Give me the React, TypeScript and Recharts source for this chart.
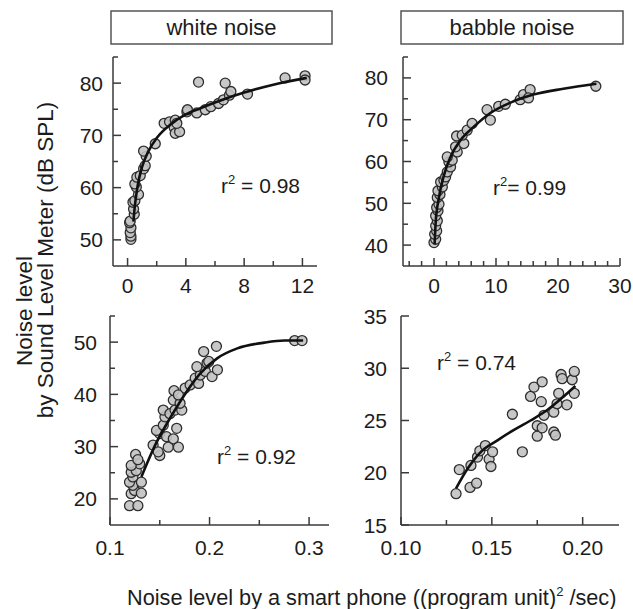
import React from "react";
import { ScatterChart, Scatter, XAxis, YAxis } from "recharts";

type Pt = [number, number];

// white noise, top row: phone level (x) vs SLM level (y)
const whitePoints: Pt[] = [
  [0.23, 50.1], [0.23, 50.7], [0.18, 51.4], [0.23, 52.3], [0.14, 53.3], [0.18, 53.6],
  [0.46, 54.9], [0.41, 55.9], [0.37, 57.2], [0.5, 57.5], [0.75, 58.7], [0.6, 60.1],
  [0.5, 60.7], [0.64, 62.0], [0.87, 62.3], [1.1, 63.6], [1.21, 64.2], [1.28, 66.0],
  [1.1, 67.0], [1.9, 68.4], [2.51, 72.3], [2.88, 72.6], [3.27, 72.9], [3.2, 71.5],
  [3.27, 70.4], [3.57, 70.7], [3.38, 72.3], [4.07, 74.5], [4.11, 74.9], [4.87, 80.2],
  [4.75, 74.3], [5.33, 74.9], [5.71, 75.5], [6.24, 76.1], [6.58, 76.8], [6.7, 80.0],
  [6.99, 77.7], [7.09, 78.4], [8.23, 77.9], [10.81, 81.0], [12.18, 81.4], [12.18, 80.6],
];
const whiteFit: Pt[] = [
  [0.4, 53.5], [0.5, 56.5], [0.7, 60.5], [1.0, 64.0], [1.4, 66.8], [2.0, 69.5], [3.0, 72.2],
  [4.0, 74.0], [5.0, 75.2], [6.0, 76.3], [8.0, 78.2], [10.0, 79.7], [12.3, 81.0],
];

// babble noise, top row
const babblePoints: Pt[] = [
  [0, 40.6], [0.27, 41.4], [0.11, 42.6], [0.43, 43.4], [0.27, 44.6], [0.53, 45.8],
  [0.27, 47.0], [0.64, 48.2], [0.43, 49.0], [0.8, 49.8], [0.53, 51.4], [0.96, 52.1],
  [0.64, 53.0], [1.34, 53.9], [1.07, 55.1], [1.6, 55.5], [1.87, 56.3], [2.14, 57.5],
  [2.67, 58.7], [2.41, 59.9], [2.94, 60.3], [2.14, 61.1], [3.74, 62.3], [3.48, 63.5],
  [4.81, 64.3], [3.64, 66.1], [4.55, 66.3], [5.35, 67.5], [6.15, 69.1], [8.56, 72.4],
  [9.09, 69.9], [10.43, 73.2], [11.5, 73.7], [13.9, 74.8], [14.44, 76.0], [15.5, 77.2],
  [15.24, 75.2], [26.1, 78.0],
];
const babbleFit: Pt[] = [
  [0.1, 40.2], [0.27, 45.4], [0.8, 51.4], [1.6, 56.7], [2.67, 61.1], [4.28, 65.1],
  [6.42, 68.3], [9.09, 71.6], [12.83, 74.4], [16.04, 76.0], [20.86, 77.4], [26.2, 78.6],
];

// white noise, bottom row
const whiteLowPoints: Pt[] = [
  [0.1196, 18.7], [0.128, 18.7], [0.1213, 21.0], [0.1247, 21.6], [0.1315, 21.1], [0.123, 22.6],
  [0.1196, 23.2], [0.1315, 23.2], [0.123, 24.2], [0.1213, 25.1], [0.1264, 25.4], [0.1298, 26.7],
  [0.1213, 26.4], [0.1257, 28.5], [0.128, 27.5], [0.1433, 30.3], [0.15, 28.3], [0.1484, 29.0],
  [0.1585, 29.9], [0.1687, 29.9], [0.15, 32.5], [0.1467, 33.1], [0.1535, 34.1], [0.1568, 31.9],
  [0.1636, 31.5], [0.167, 33.5], [0.1552, 35.7], [0.1535, 37.0], [0.1602, 36.3], [0.1653, 37.0],
  [0.1721, 37.0], [0.1636, 38.9], [0.1704, 38.3], [0.1643, 40.7], [0.1687, 39.9], [0.1755, 41.2],
  [0.1805, 41.8], [0.1856, 43.1], [0.189, 42.1], [0.1907, 43.7], [0.1958, 44.4], [0.1873, 45.3],
  [0.1975, 46.0], [0.1941, 48.2], [0.2069, 49.2], [0.2025, 43.4], [0.2079, 44.7], [0.1992, 46.3],
  [0.2855, 50.3], [0.2929, 50.3],
];
const whiteLowFit: Pt[] = [
  [0.1315, 24.2], [0.1467, 30.8], [0.1602, 35.4], [0.1738, 39.6], [0.1907, 44.0], [0.2076, 46.9],
  [0.2279, 48.8], [0.255, 49.9], [0.2753, 50.3], [0.294, 50.3],
];

// babble noise, bottom row
const babbleLowPoints: Pt[] = [
  [0.1303, 18.0], [0.1321, 20.3], [0.138, 18.6], [0.1416, 19.0], [0.1385, 20.7], [0.1421, 21.5],
  [0.1434, 22.1], [0.1464, 22.6], [0.1485, 21.3], [0.1495, 20.6], [0.1504, 22.0], [0.1613, 25.6],
  [0.1668, 22.0], [0.1713, 27.3], [0.1732, 28.2], [0.1777, 28.7], [0.1772, 26.8], [0.175, 24.5],
  [0.175, 23.5], [0.1787, 25.5], [0.1777, 24.3], [0.1841, 23.9], [0.185, 23.6], [0.1841, 25.8],
  [0.1859, 26.6], [0.1868, 27.6], [0.1913, 26.5], [0.1881, 29.4], [0.1887, 29.0], [0.1942, 28.9],
  [0.1954, 29.7], [0.1954, 27.6],
];
const babbleLowFit: Pt[] = [
  [0.1303, 18.5], [0.1367, 20.4], [0.144, 22.0], [0.1531, 23.1], [0.1622, 24.1], [0.1713, 25.0],
  [0.1805, 26.0], [0.1896, 27.3], [0.196, 28.3],
];

// ticks (all tick marks) and labelled ticks
const whiteXTicks = [0, 2, 4, 6, 8, 10, 12];
const whiteXLabels = ["0", "4", "8", "12"];
const whiteYTicks = [50, 55, 60, 65, 70, 75, 80, 85];
const whiteYLabels = ["50", "60", "70", "80"];

const babbleXTicks = [-4, -2, 0, 2, 4, 6, 8, 10, 12, 14, 16, 18, 20, 22, 24, 26, 28, 30];
const babbleXLabels = ["0", "10", "20", "30"];
const babbleYTicks = [40, 45, 50, 55, 60, 65, 70, 75, 80, 85];
const babbleYLabels = ["40", "50", "60", "70", "80"];

const whiteLowXTicks = [0.1, 0.15, 0.2, 0.25, 0.3];
const whiteLowXLabels = ["0.1", "0.2", "0.3"];
const whiteLowYTicks = [20, 25, 30, 35, 40, 45, 50, 55];
const whiteLowYLabels = ["20", "30", "40", "50"];

const babbleLowXTicks = [0.1, 0.125, 0.15, 0.175, 0.2];
const babbleLowXLabels = ["0.10", "0.15", "0.20"];
const babbleLowYTicks = [15, 20, 25, 30, 35];
const babbleLowYLabels = ["15", "20", "25", "30", "35"];

const r2Labels = ["0.98", "0.99", "0.92", "0.74"];
const panelTitles = ["white noise", "babble noise"];

const FONT = "'Liberation Sans', Arial, sans-serif";
const AXIS = "#3a3a3a";
const TEXT = "#1c1c1c";

const findLabel = (labels: string[], v: number) =>
  labels.find((l) => Math.abs(parseFloat(l) - v) < 1e-9);

const makeXTick = (labels: string[], dy: number) => (props: any) => {
  const { x, y, payload } = props;
  const lab = findLabel(labels, payload.value);
  const len = lab ? 8 : 5;
  return (
    <g>
      <line x1={x} x2={x} y1={y} y2={y - len} stroke={AXIS} strokeWidth={1.5} />
      {lab && (
        <text x={x} y={y + dy} textAnchor="middle" fontFamily={FONT} fontSize={21} fill={TEXT}>
          {lab}
        </text>
      )}
    </g>
  );
};

const makeYTick = (labels: string[], gap: number) => (props: any) => {
  const { x, y, payload } = props;
  const lab = findLabel(labels, payload.value);
  const len = lab ? 8 : 5;
  return (
    <g>
      <line x1={x} x2={x + len} y1={y} y2={y} stroke={AXIS} strokeWidth={1.5} />
      {lab && (
        <text x={x - gap} y={y + 7.5} textAnchor="end" fontFamily={FONT} fontSize={21} fill={TEXT}>
          {lab}
        </text>
      )}
    </g>
  );
};

const dot = (props: any) => (
  <circle cx={props.cx} cy={props.cy} r={5} fill="#c2c2c2" fillOpacity={0.9} stroke="#2e2e2e" strokeWidth={1.3} />
);
const noDot = () => <g />;

const toRows = (pts: Pt[]) => pts.map(([x, y]) => ({ x, y }));

interface PanelProps {
  left: number;
  top: number;
  width: number;
  right?: number;
  xDomain: [number, number];
  yDomain: [number, number];
  xTicks: number[];
  xLabels: string[];
  yTicks: number[];
  yLabels: string[];
  points: Pt[];
  fit: Pt[];
  xDy: number;
  yGap: number;
}

function Panel(p: PanelProps) {
  return (
    <div style={{ position: "absolute", left: p.left, top: p.top }}>
      <ScatterChart width={p.width} height={259} margin={{ top: 10, right: p.right ?? 10, left: 0, bottom: 0 }}>
        <XAxis
          type="number"
          dataKey="x"
          domain={p.xDomain}
          allowDataOverflow
          ticks={p.xTicks}
          interval={0}
          height={40}
          tickSize={0}
          tickMargin={0}
          tickLine={false}
          axisLine={{ stroke: AXIS, strokeWidth: 1.5 }}
          tick={makeXTick(p.xLabels, p.xDy)}
        />
        <YAxis
          type="number"
          dataKey="y"
          domain={p.yDomain}
          allowDataOverflow
          ticks={p.yTicks}
          interval={0}
          width={53}
          tickSize={0}
          tickMargin={0}
          tickLine={false}
          axisLine={{ stroke: AXIS, strokeWidth: 1.5 }}
          tick={makeYTick(p.yLabels, p.yGap)}
        />
        <Scatter data={toRows(p.points)} shape={dot} isAnimationActive={false} />
        <Scatter
          data={toRows(p.fit)}
          shape={noDot}
          line={{ stroke: "#111", strokeWidth: 2.6 }}
          lineType="joint"
          lineJointType="monotoneX"
          isAnimationActive={false}
        />
      </ScatterChart>
    </div>
  );
}

function R2({ x, y, value, tight }: { x: number; y: number; value: string; tight?: boolean }) {
  return (
    <text x={x} y={y} fontFamily={FONT} fontSize={21} fill={TEXT}>
      <tspan>r</tspan>
      <tspan dy={-9} fontSize={13}>2</tspan>
      <tspan dy={9}>{tight ? "= " + value : " = " + value}</tspan>
    </text>
  );
}

export default function App() {
  return (
    <div style={{ position: "absolute", left: 0, top: 0, width: 633, height: 609, background: "#fff", overflow: "hidden" }}>
      <Panel left={60} top={47} width={267} xDomain={[-1, 13]} yDomain={[45, 85]}
        xTicks={whiteXTicks} xLabels={whiteXLabels} yTicks={whiteYTicks} yLabels={whiteYLabels}
        points={whitePoints} fit={whiteFit} xDy={27} yGap={10} />
      <Panel left={350} top={47} width={283} right={13} xDomain={[-5, 30]} yDomain={[35, 85]}
        xTicks={babbleXTicks} xLabels={babbleXLabels} yTicks={babbleYTicks} yLabels={babbleYLabels}
        points={babblePoints} fit={babbleFit} xDy={27} yGap={15} />
      <Panel left={57} top={306} width={282} xDomain={[0.1, 0.32]} yDomain={[15, 55]}
        xTicks={whiteLowXTicks} xLabels={whiteLowXLabels} yTicks={whiteLowYTicks} yLabels={whiteLowYLabels}
        points={whiteLowPoints} fit={whiteLowFit} xDy={30} yGap={13} />
      <Panel left={348} top={306} width={281} xDomain={[0.1, 0.22]} yDomain={[15, 35]}
        xTicks={babbleLowXTicks} xLabels={babbleLowXLabels} yTicks={babbleLowYTicks} yLabels={babbleLowYLabels}
        points={babbleLowPoints} fit={babbleLowFit} xDy={30} yGap={14} />

      <svg width={633} height={609} style={{ position: "absolute", left: 0, top: 0, pointerEvents: "none" }}>
        <rect x={111} y={11} width={221} height={33} fill="none" stroke="#555" strokeWidth={1.5} />
        <rect x={401} y={11} width={222} height={33} fill="none" stroke="#555" strokeWidth={1.5} />
        <text x={221.5} y={35} textAnchor="middle" fontFamily={FONT} fontSize={22} fill={TEXT}>{panelTitles[0]}</text>
        <text x={512} y={35} textAnchor="middle" fontFamily={FONT} fontSize={22} fill={TEXT}>{panelTitles[1]}</text>

        <R2 x={221} y={193} value={r2Labels[0]} />
        <R2 x={493} y={195} value={r2Labels[1]} tight />
        <R2 x={217} y={464} value={r2Labels[2]} />
        <R2 x={437} y={370} value={r2Labels[3]} />

        <text transform="translate(32,311) rotate(-90)" textAnchor="middle" fontFamily={FONT} fontSize={22.5} fill={TEXT}>
          Noise level
        </text>
        <text transform="translate(53,260) rotate(-90)" textAnchor="middle" fontFamily={FONT} fontSize={22.5} fill={TEXT}>
          by Sound Level Meter (dB SPL)
        </text>
        <text x={127} y={605} fontFamily={FONT} fontSize={21.7} fill={TEXT}>
          <tspan>Noise level by a smart phone ((program unit)</tspan>
          <tspan dy={-9} fontSize={13}>2</tspan>
          <tspan dy={9}> /sec)</tspan>
        </text>
      </svg>
    </div>
  );
}
